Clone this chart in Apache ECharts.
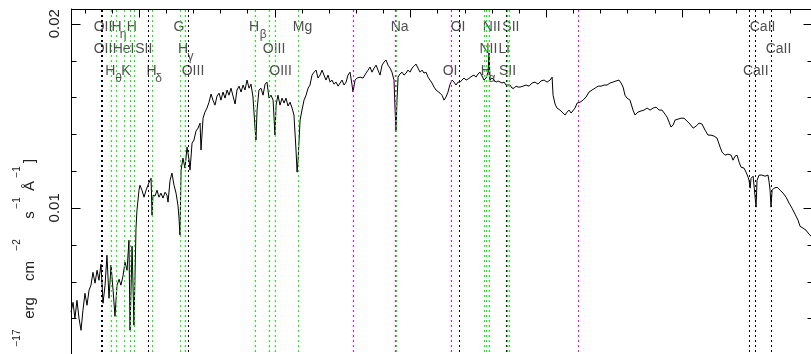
<!DOCTYPE html>
<html>
<head>
<meta charset="utf-8">
<script src="https://cdn.jsdelivr.net/npm/echarts@6/dist/echarts.min.js"></script>
<style>
  html, body { margin: 0; padding: 0; background: #fff; overflow: hidden; }
  #chart { width: 816px; height: 420px; }
</style>
</head>
<body>
<div id="chart"></div>
<script>
// rest wavelength (Angstrom) and flux
const wave = [
  3500,3515,3529,3544,3559,3574,3588,3603,3618,3633,3647,3662,3677,3692,3706,3721,3736,3751,3765,3780,
  3795,3810,3824,3839,3854,3868,3883,3898,3913,3927,3935,3950,3964,3979,3986,4001,4008,4023,4038,4053,
  4067,4082,4090,4097,4104,4119,4134,4148,4163,4178,4193,4207,4215,4230,4244,4259,4274,4288,4296,4303,
  4311,4325,4340,4355,4370,4377,4392,4406,4421,4436,4451,4458,4473,4487,4502,4517,4532,4546,4561,4576,
  4591,4605,4620,4635,4650,4664,4679,4694,4709,4723,4738,4753,4768,4782,4797,4812,4826,4841,4856,4863,
  4871,4885,4900,4915,4930,4944,4959,4974,4989,5003,5011,5025,5040,5055,5070,5084,5099,5114,5129,5143,
  5158,5166,5173,5188,5202,5217,5232,5247,5261,5276,5291,5306,5320,5335,5350,5364,5379,5394,5409,5423,
  5438,5453,5468,5482,5497,5512,5527,5541,5556,5571,5578,5593,5608,5630,5652,5674,5689,5703,5718,5733,
  5748,5762,5777,5792,5807,5821,5836,5851,5865,5880,5888,5895,5902,5910,5924,5939,5954,5969,5983,5998,
  6013,6028,6042,6057,6072,6087,6101,6116,6131,6145,6160,6175,6190,6204,6219,6234,6249,6263,6278,6293,
  6308,6322,6337,6352,6367,6381,6396,6411,6426,6440,6455,6470,6484,6499,6514,6529,6543,6558,6573,6580,
  6588,6602,6617,6632,6647,6661,6676,6691,6706,6720,6735,6750,6765,6779,6794,6809,6831,6853,6875,6897,
  6919,6941,6963,6986,7008,7030,7045,7052,7067,7081,7103,7126,7140,7155,7170,7185,7199,7214,7229,7251,
  7273,7295,7317,7339,7361,7384,7406,7428,7450,7472,7494,7516,7538,7553,7568,7582,7597,7619,7641,7656,
  7678,7700,7722,7745,7767,7789,7811,7833,7855,7877,7892,7907,7921,7936,7951,7973,7995,8017,8039,8061,
  8084,8106,8128,8150,8172,8194,8216,8238,8260,8283,8297,8319,8341,8364,8378,8393,8408,8423,8437,8459,
  8474,8489,8496,8504,8511,8526,8540,8548,8555,8570,8592,8614,8636,8644,8651,8658,8666,8680,8703,8725,
  8747,8769,8791,8813,8835,8857,8872,8894,8916,8938,8953
];
const flux = [
  0.00433,0.00487,0.00400,0.00498,0.00400,0.00335,0.00444,0.00536,0.00471,0.00553,0.00580,0.00650,0.00591,0.00661,0.00607,0.00694,0.00482,0.00580,0.00743,0.00509,
  0.00689,0.00553,0.00411,0.00580,0.00612,0.00580,0.00629,0.00705,0.00661,0.00824,0.00335,0.00792,0.00362,0.00890,0.00987,0.01096,0.01123,0.01096,0.01058,0.01096,
  0.01123,0.01150,0.01161,0.00960,0.01069,0.01064,0.01096,0.01058,0.01080,0.01053,0.01085,0.01069,0.01031,0.01150,0.01189,0.01123,0.01080,0.01015,0.00944,0.00852,
  0.01205,0.01270,0.01216,0.01330,0.01259,0.01205,0.01352,0.01368,0.01417,0.01433,0.01460,0.01314,0.01487,0.01520,0.01542,0.01574,0.01618,0.01585,0.01558,0.01607,
  0.01623,0.01585,0.01629,0.01596,0.01640,0.01612,0.01650,0.01607,0.01564,0.01640,0.01661,0.01629,0.01667,0.01640,0.01694,0.01650,0.01672,0.01602,0.01433,0.01368,
  0.01531,0.01640,0.01650,0.01612,0.01672,0.01683,0.01596,0.01612,0.01585,0.01395,0.01558,0.01612,0.01558,0.01596,0.01569,0.01596,0.01553,0.01574,0.01542,0.01504,
  0.01314,0.01194,0.01259,0.01477,0.01531,0.01585,0.01612,0.01650,0.01667,0.01721,0.01737,0.01748,0.01705,0.01721,0.01748,0.01721,0.01694,0.01721,0.01683,0.01694,
  0.01672,0.01683,0.01661,0.01656,0.01694,0.01667,0.01683,0.01721,0.01737,0.01667,0.01629,0.01694,0.01705,0.01710,0.01705,0.01732,0.01748,0.01765,0.01737,0.01759,
  0.01775,0.01748,0.01721,0.01775,0.01792,0.01803,0.01775,0.01759,0.01737,0.01694,0.01531,0.01422,0.01585,0.01710,0.01727,0.01737,0.01721,0.01732,0.01748,0.01737,
  0.01759,0.01770,0.01781,0.01759,0.01737,0.01748,0.01732,0.01737,0.01710,0.01694,0.01678,0.01656,0.01640,0.01650,0.01623,0.01612,0.01585,0.01602,0.01629,0.01672,
  0.01694,0.01683,0.01667,0.01683,0.01683,0.01694,0.01705,0.01694,0.01700,0.01705,0.01716,0.01721,0.01710,0.01727,0.01737,0.01716,0.01694,0.01705,0.01737,0.01841,
  0.01694,0.01705,0.01694,0.01683,0.01689,0.01694,0.01678,0.01683,0.01667,0.01661,0.01667,0.01650,0.01650,0.01661,0.01656,0.01656,0.01661,0.01667,0.01661,0.01678,
  0.01683,0.01672,0.01689,0.01694,0.01683,0.01694,0.01710,0.01612,0.01564,0.01542,0.01531,0.01515,0.01504,0.01520,0.01531,0.01515,0.01515,0.01542,0.01569,0.01574,
  0.01585,0.01602,0.01629,0.01640,0.01650,0.01661,0.01661,0.01667,0.01667,0.01678,0.01683,0.01689,0.01694,0.01678,0.01656,0.01612,0.01596,0.01585,0.01531,0.01504,
  0.01520,0.01526,0.01531,0.01542,0.01531,0.01542,0.01547,0.01531,0.01531,0.01509,0.01493,0.01466,0.01439,0.01449,0.01477,0.01482,0.01487,0.01487,0.01471,0.01455,
  0.01433,0.01444,0.01460,0.01455,0.01422,0.01395,0.01395,0.01390,0.01379,0.01330,0.01303,0.01286,0.01292,0.01286,0.01259,0.01281,0.01286,0.01248,0.01221,0.01216,
  0.01194,0.01167,0.01150,0.01107,0.01161,0.01172,0.01172,0.01004,0.01150,0.01178,0.01178,0.01172,0.01178,0.01140,0.01096,0.01004,0.01096,0.01107,0.01112,0.01096,
  0.01080,0.01058,0.01026,0.00998,0.00966,0.00933,0.00900,0.00890,0.00879,0.00857,0.00846
];

// marked line positions (Angstrom)
const absorptionLines = [3797.9, 3835.4, 3889.0, 3933.7, 3968.5, 4101.7, 4304.4, 4340.5, 4861.3, 4958.9,
  5006.8, 5175.3, 5894.0, 6548.1, 6562.8, 6583.4, 6716.4, 6730.8];
const emissionLines = [3726.0, 3728.8, 4071.8, 4363.2, 6300.3, 6363.8, 6707.8, 8498.0, 8542.1, 8662.1];
const skyLines = [5577.3, 5890.0, 6300.3, 7240.0];

// line names: text, wavelength where the text sits, row (1..3), subscript flag
const lineNames = [
  ['OII', 3736, 1, 0], ['H', 3835, 1, 0], ['η', 3883, 1, 1], ['H', 3948, 1, 0], ['G', 4296, 1, 0],
  ['H', 4849, 1, 0], ['β', 4917, 1, 1], ['Mg', 5206, 1, 0], ['Na', 5922, 1, 0], ['OI', 6352, 1, 0],
  ['NII', 6600, 1, 0], ['SII', 6741, 1, 0], ['CaII', 8596, 1, 0],
  ['OII', 3736, 2, 0], ['HeI', 3887, 2, 0], ['SII', 4036, 2, 0], ['H', 4325, 2, 0], ['γ', 4381, 2, 1],
  ['OIII', 4996, 2, 0], ['NII', 6575, 2, 0], ['Li', 6691, 2, 0], ['CaII', 8713, 2, 0],
  ['H', 3790, 3, 0], ['θ', 3850, 3, 1], ['K', 3905, 3, 0], ['H', 4093, 3, 0], ['δ', 4145, 3, 1],
  ['OIII', 4399, 3, 0], ['OIII', 5044, 3, 0], ['OI', 6293, 3, 0], ['H', 6557, 3, 0], ['α', 6602, 3, 1],
  ['SII', 6717, 3, 0], ['CaII', 8546, 3, 0]
];
const rowFlux = [0, 0.01982, 0.01863, 0.01743];

// tick values
const xMinorTicks = [3600, 3800, 4200, 4400, 4600, 4800, 5200, 5400, 5600, 5800, 6200, 6400, 6600, 6800,
  7200, 7400, 7600, 7800, 8200, 8400, 8600, 8800];
const xMajorTicks = [4000, 5000, 6000, 7000, 8000];
const yMinorTicks = [0.002, 0.004, 0.006, 0.008, 0.012, 0.014, 0.016, 0.018];
const yMajorTicks = [0.01, 0.02];

// y-axis title pieces: text, superscript?, centre along the axis (px)
const yTitle = [
  ['Flux [10', 0, 386], ['−17', 1, 338], ['erg', 0, 308], ['cm', 0, 271], ['−2', 1, 245],
  ['s', 0, 215], ['−1', 1, 203], ['Å', 0, 186], ['−1', 1, 172], [']', 0, 161]
];

const FONT = 'Liberation Sans, Arial, sans-serif';
const X_MIN = 3500, X_MAX = 8960, Y_MIN = 0, Y_MAX = 0.0208;
const chart = echarts.init(document.getElementById('chart'));

const markSeries = (list, color) => ({
  type: 'line',
  data: [],
  silent: true,
  z: 1,
  markLine: {
    silent: true,
    symbol: ['none', 'none'],
    label: {show: false},
    lineStyle: {color: color, width: 1, type: [2, 3]},
    data: list.map(w => ({xAxis: w}))
  }
});

const titleGraphics = yTitle.map(p => ({
  type: 'text',
  x: p[1] ? 17 : 30,
  y: p[2],
  rotation: Math.PI / 2,
  silent: true,
  style: {
    text: p[0],
    align: 'center',
    verticalAlign: 'middle',
    fill: '#222',
    font: (p[1] ? '10px ' : '15px ') + FONT
  }
}));

chart.setOption({
  animation: false,
  grid: {left: 71, top: 9, width: 741, height: 383, show: false},
  xAxis: {
    type: 'value', min: X_MIN, max: X_MAX,
    splitLine: {show: false},
    axisLine: {show: false, onZero: false},
    axisTick: {show: false},
    axisLabel: {show: false}
  },
  yAxis: [{
    type: 'value', min: Y_MIN, max: Y_MAX, interval: 0.01,
    splitLine: {show: false},
    axisLine: {show: true, onZero: false, lineStyle: {color: '#000', width: 1}},
    axisTick: {show: false},
    axisLabel: {
      show: true, rotate: 90, margin: 9, fontSize: 15, fontFamily: FONT, color: '#222',
      showMaxLabel: false, showMinLabel: false,
      formatter: v => v.toFixed(2)
    }
  }],
  graphic: titleGraphics,
  series: [
    markSeries(absorptionLines, '#00ff00'),
    markSeries(emissionLines, '#000000'),
    markSeries(skyLines, '#ff00ff'),
    {
      type: 'line',
      z: 3,
      silent: true,
      showSymbol: false,
      symbol: 'none',
      lineStyle: {color: '#000', width: 1},
      data: wave.map((w, i) => [w, flux[i]])
    },
    {
      type: 'scatter',
      z: 4,
      silent: true,
      symbolSize: 0,
      label: {
        show: true,
        position: 'inside',
        fontSize: 14,
        fontFamily: FONT,
        color: '#222',
        formatter: p => p.name
      },
      data: lineNames.map(n => ({
        value: [n[1], rowFlux[n[2]]],
        name: n[0],
        label: n[3] ? {fontSize: 12, offset: [0, 8]} : {}
      }))
    }
  ]
});

// frame and inward ticks, placed through the chart's own scales
const toPx = (x, y) => chart.convertToPixel({gridIndex: 0}, [x, y]);
const crisp = v => Math.round(v) + 0.5;
const seg = (x1, y1, x2, y2) => ({
  type: 'line', silent: true, z: 10,
  shape: {x1: x1, y1: y1, x2: x2, y2: y2},
  style: {stroke: '#000', lineWidth: 1}
});
const cornerTL = toPx(X_MIN, Y_MAX);
const cornerTR = toPx(X_MAX, Y_MAX);
const frameTop = crisp(cornerTL[1]), frameLeft = crisp(cornerTL[0]), frameRight = crisp(cornerTR[0]);
const tickEls = [seg(frameLeft, frameTop, frameRight, frameTop)];
xMinorTicks.forEach(v => { const x = crisp(toPx(v, Y_MAX)[0]); tickEls.push(seg(x, frameTop, x, frameTop + 4)); });
xMajorTicks.forEach(v => { const x = crisp(toPx(v, Y_MAX)[0]); tickEls.push(seg(x, frameTop, x, frameTop + 8)); });
yMinorTicks.forEach(v => {
  const y = crisp(toPx(X_MIN, v)[1]);
  tickEls.push(seg(frameLeft, y, frameLeft + 5, y), seg(frameRight - 5, y, frameRight, y));
});
yMajorTicks.forEach(v => {
  const y = crisp(toPx(X_MIN, v)[1]);
  tickEls.push(seg(frameLeft, y, frameLeft + 9, y), seg(frameRight - 9, y, frameRight, y));
});
chart.setOption({graphic: titleGraphics.concat(tickEls)});
</script>
</body>
</html>
